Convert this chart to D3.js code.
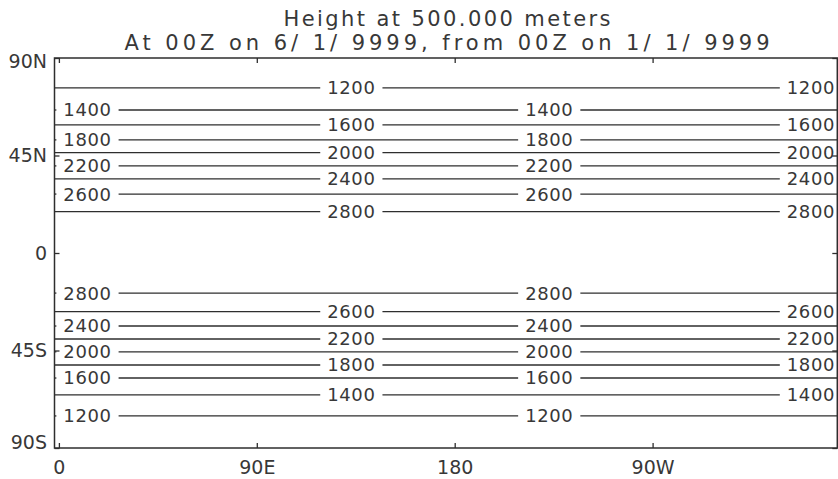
<!DOCTYPE html>
<html>
<head>
<meta charset="utf-8">
<script src="https://cdn.jsdelivr.net/npm/d3@7"></script>
<style>
  html, body { margin: 0; padding: 0; background: #fff; }
  svg { display: block; }
  text { font-family: "DejaVu Sans", sans-serif; fill: #383838; }
</style>
</head>
<body>
<svg id="chart" width="838" height="479"></svg>
<script>
// Contour levels of 500 m height field and the latitude where each level lies
const levels     = [1200, 1400, 1600, 1800, 2000, 2200, 2400, 2600, 2800];
const latNorth   = [76.2, 66.0, 59.1, 52.2, 46.3, 40.2, 34.2, 27.2, 19.1];
const latSouth   = [-75.2, -65.5, -57.7, -51.7, -45.6, -39.7, -33.7, -27.1, -18.5];

// Longitudes at which contour labels are placed (two alternating sets)
const labelLonsA = [13, 223];
const labelLonsB = [133, 342];

// Axis ticks
const lonTicks      = [0, 90, 180, 270];
const lonTickLabels = ["0", "90E", "180", "90W"];
const latTicks      = [90, 45, 0, -45, -90];
const latTickLabels = ["90N", "45N", "0", "45S", "90S"];

const titleLines = ["Height at 500.000 meters",
                    "At 00Z on 6/ 1/ 9999, from 00Z on 1/ 1/ 9999"];

const svg = d3.select("#chart");
const ink = "#2e2e2e";
const textInk = "#383838";

const x = d3.scaleLinear().domain([-2, 354]).range([54.5, 837.3]);
const y = d3.scaleLinear().domain([90, -90]).range([58, 448]);
const [lonMin, lonMax] = x.domain();

// Title
svg.append("text").attr("x", 447).attr("y", 26)
  .attr("text-anchor", "middle").attr("font-size", 21)
  .attr("textLength", 327).attr("lengthAdjust", "spacing")
  .text(titleLines[0]);
svg.append("text").attr("x", 447).attr("y", 50)
  .attr("text-anchor", "middle").attr("font-size", 21)
  .attr("textLength", 645).attr("lengthAdjust", "spacing")
  .text(titleLines[1]);

// Contours
const contours = [];
levels.forEach((lev, i) => {
  contours.push({ level: lev, lat: latNorth[i], lons: i % 2 === 0 ? labelLonsB : labelLonsA });
  contours.push({ level: lev, lat: latSouth[i], lons: i % 2 === 0 ? labelLonsA : labelLonsB });
});

const line = d3.line().x(d => x(d[0])).y(d => y(d[1]));
const gC = svg.append("g");

contours.forEach(c => {
  const gaps = [];
  c.lons.forEach(lon => {
    const t = gC.append("text")
      .attr("x", x(lon)).attr("y", y(c.lat))
      .attr("dy", "0.36em")
      .attr("text-anchor", "middle")
      .attr("font-size", 18)
      .attr("letter-spacing", "0.6px")
      .text(c.level);
    const half = t.node().getComputedTextLength() / 2 + 7;
    gaps.push([x.invert(x(lon) - half), x.invert(x(lon) + half)]);
  });
  gaps.sort((a, b) => a[0] - b[0]);
  let start = lonMin;
  const segs = [];
  gaps.forEach(([g0, g1]) => {
    if (g0 > start) segs.push([[start, c.lat], [Math.min(g0, lonMax), c.lat]]);
    start = Math.max(start, g1);
  });
  if (start < lonMax) segs.push([[start, c.lat], [lonMax, c.lat]]);
  segs.forEach(s => {
    gC.append("path").attr("d", line(s))
      .attr("fill", "none").attr("stroke", ink).attr("stroke-width", 1.3);
  });
});

// Frame
svg.append("rect")
  .attr("x", x(lonMin)).attr("y", y(90))
  .attr("width", x(lonMax) - x(lonMin)).attr("height", y(-90) - y(90))
  .attr("fill", "none").attr("stroke", ink).attr("stroke-width", 1.5);

// Axes with inward ticks
function styleAxis(g) {
  g.select(".domain").remove();
  g.selectAll(".tick line").attr("stroke", ink).attr("stroke-width", 1.3);
  g.selectAll(".tick text").attr("fill", textInk).attr("font-size", 19)
    .attr("font-family", "DejaVu Sans, sans-serif");
}

svg.append("g").attr("transform", `translate(0,${y(-90)})`)
  .call(d3.axisBottom(x).tickValues(lonTicks)
    .tickFormat((d, i) => lonTickLabels[i])
    .tickSizeInner(-5).tickSizeOuter(0).tickPadding(13))
  .call(styleAxis);

svg.append("g").attr("transform", `translate(0,${y(90)})`)
  .call(d3.axisTop(x).tickValues(lonTicks).tickFormat("")
    .tickSizeInner(-5).tickSizeOuter(0))
  .call(styleAxis);

svg.append("g").attr("transform", `translate(${x(lonMin)},0)`)
  .call(d3.axisLeft(y).tickValues(latTicks)
    .tickFormat((d, i) => latTickLabels[i])
    .tickSizeInner(-5).tickSizeOuter(0).tickPadding(7.5))
  .call(styleAxis)
  .call(g => g.selectAll(".tick text")
    .attr("y", d => d === 90 ? 3 : d === -90 ? -6 : 0));

svg.append("g").attr("transform", `translate(${x(lonMax)},0)`)
  .call(d3.axisRight(y).tickValues(latTicks).tickFormat("")
    .tickSizeInner(-5).tickSizeOuter(0))
  .call(styleAxis);
</script>
</body>
</html>
